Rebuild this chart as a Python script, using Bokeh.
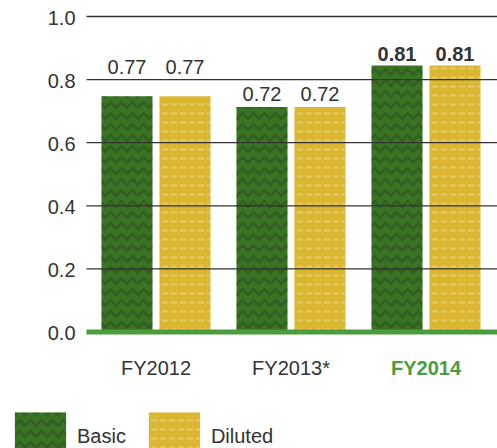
import numpy as np
from bokeh.plotting import figure
from bokeh.models import ColumnDataSource, Range1d, Legend, LegendItem
from bokeh.core.properties import value
from bokeh.embed import file_html
from bokeh.resources import INLINE

# ---- data ----
categories = ["FY2012", "FY2013*", "FY2014"]
basic = [0.747, 0.713, 0.845]        # bar heights as drawn
diluted = [0.747, 0.713, 0.845]
basic_labels = ["0.77", "0.72", "0.81"]
diluted_labels = ["0.77", "0.72", "0.81"]
label_gap_px = [29, 13, 11]
cat_colors = ["#333333", "#333333", "#4a9c3c"]
cat_styles = ["normal", "normal", "bold"]
y_ticks = [0.0, 0.2, 0.4, 0.6, 0.8, 1.0]
y_tick_labels = ["0.0", "0.2", "0.4", "0.6", "0.8", "1.0"]
series_names = ["Basic", "Diluted"]

FONT = "Liberation Sans"
TXT = "#333333"
GREEN = "#4a9c3c"

BASIC_STYLE = dict(fill_color="#3b7325", line_color=None,
                   hatch_pattern="horizontal_wave", hatch_color="#173510",
                   hatch_alpha=0.3, hatch_scale=11, hatch_weight=3)
DIL_STYLE = dict(fill_color="#dbb631", line_color=None,
                 hatch_pattern="horizontal_dash", hatch_color="#eedc98",
                 hatch_alpha=0.5, hatch_scale=9, hatch_weight=2)

# ---- ranges (frame covers the whole figure) ----
X_START, X_END = -1.15185, 2.52963
PLOT_LEFT = -0.51481          # left edge of the plotting area (grid start)
Y_START, Y_END = -0.36926, 1.05071

x = np.arange(len(categories))
off = 0.2148
bw = 0.378

src_b = ColumnDataSource(dict(x=x - off, top=basic, lab=basic_labels,
                              gap=[-g for g in label_gap_px], style=cat_styles))
src_d = ColumnDataSource(dict(x=x + off, top=diluted, lab=diluted_labels,
                              gap=[-g for g in label_gap_px], style=cat_styles))
src_c = ColumnDataSource(dict(x=x, y=[0] * len(categories), lab=categories,
                              color=cat_colors, style=cat_styles))
grid_ticks = [t for t in y_ticks if t > 0]
src_g = ColumnDataSource(dict(x0=[PLOT_LEFT] * len(grid_ticks), x1=[X_END] * len(grid_ticks),
                              y=grid_ticks))
src_t = ColumnDataSource(dict(x=[X_START] * len(y_ticks), y=y_ticks, lab=y_tick_labels))

p = figure(width=497, height=448,
           x_range=Range1d(X_START, X_END), y_range=Range1d(Y_START, Y_END),
           output_backend="svg", toolbar_location=None,
           x_axis_location=None, y_axis_location=None,
           min_border_left=0, min_border_right=0, min_border_top=0, min_border_bottom=0)
p.outline_line_color = None
p.background_fill_color = "white"
p.border_fill_color = "white"
p.grid.visible = False

r1 = p.vbar(x="x", top="top", width=bw, bottom=0, source=src_b, **BASIC_STYLE)
r2 = p.vbar(x="x", top="top", width=bw, bottom=0, source=src_d, **DIL_STYLE)

# grid lines (drawn over the bars) and green baseline
p.segment(x0="x0", x1="x1", y0="y", y1="y", source=src_g,
          line_color="#333333", line_width=1.3)
p.segment(x0=[PLOT_LEFT], x1=[X_END], y0=[0], y1=[0], line_color=GREEN, line_width=5)

# y tick labels
p.text(x="x", y="y", text="lab", source=src_t, x_offset=75, y_offset=1.5,
       text_align="right", text_baseline="middle",
       text_font=value(FONT), text_font_size="20px", text_color=TXT)

# value labels
for s in (src_b, src_d):
    p.text(x="x", y="top", text="lab", source=s, y_offset="gap",
           text_align="center", text_baseline="alphabetic",
           text_font=value(FONT), text_font_size="20px", text_color=TXT,
           text_font_style="style")

# category labels
p.text(x="x", y="y", text="lab", source=src_c, y_offset=36,
       text_align="center", text_baseline="middle",
       text_font=value(FONT), text_font_size="20px", text_color="color",
       text_font_style="style")

legend = Legend(items=[LegendItem(label=series_names[0], renderers=[r1]),
                       LegendItem(label=series_names[1], renderers=[r2])],
                orientation="horizontal", location=(8, -18),
                glyph_width=64, glyph_height=60, label_standoff=5, spacing=16,
                padding=0, margin=0, border_line_alpha=0, background_fill_alpha=0,
                label_text_font=FONT, label_text_font_size="20px", label_text_color=TXT)
p.add_layout(legend)

open("out.html", "w").write(file_html(p, INLINE))
